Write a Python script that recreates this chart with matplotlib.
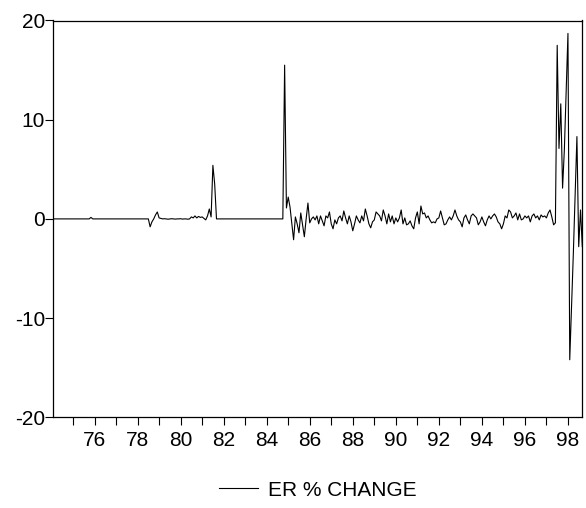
#!/usr/bin/python3
'''
ER % change, monthly, 1974M02 - 1998M09
'''
import numpy as np
import pandas as pd
import matplotlib
matplotlib.use('Agg')
import matplotlib.pyplot as plt

# monthly observations
start = '1974-02'
end = '1998-09'

quiet_74_78 = [0.0] * 21 + [0.15] + [0.0] * 32          # obs 0-53
wiggle_78_81 = [-0.8, -0.3, 0.0, 0.4, 0.7, 0.1, 0.05, 0.0, 0.02, 0.0, -0.03,
                0.0, 0.02, 0.0, -0.02, 0.0, 0.0, 0.02, -0.02, 0.0, 0.0, -0.03,
                0.0, 0.2, 0.1, 0.3, 0.1, 0.25, 0.15, 0.2, 0.05, -0.1, 0.3,
                1.0, 0.2, 5.4, 3.5, 0.0]
quiet_81_84 = [0.0] * 37
jump_84_86 = [15.5, 1.1, 2.2, 1.2, -0.5, -2.1, 0.2, -0.5, -1.4, 0.6, -0.6,
              -1.8, 0.0, 1.6, -0.4, 0.0, 0.2]
float_86_97 = [-0.1, 0.3, -0.5, 0.3, -0.2, -0.7, 0.3, 0.1, 0.7, -0.5,
               -1.0, -0.1, -0.5, 0.1, 0.3, -0.2, 0.8, 0.1, -0.5, 0.3,
               -0.3, -1.2, -0.5, 0.3, -0.1, -0.4, 0.3, -0.2, 1.0, 0.3,
               -0.5, -0.9, -0.3, -0.1, 0.7, 0.5, 0.3, -0.2, 0.9, 0.3,
               -0.5, 0.5, -0.3, 0.3, -0.5, 0.1, -0.3, 0.1, 0.9, -0.5,
               0.1, -0.6, -0.5, -0.2, -0.7, -1.0, 0.1, 0.7, -0.5, 1.3,
               0.5, 0.6, 0.1, 0.3, -0.1, -0.4, -0.3, -0.4, 0.0, 0.1,
               0.8, 0.1, -0.6, -0.5, -0.1, 0.2, -0.1, 0.3, 0.9, 0.3,
               -0.1, -0.3, -0.8, 0.1, 0.4, -0.1, -0.5, 0.3, 0.5, 0.3,
               0.1, -0.6, -0.3, 0.2, -0.3, -0.7, -0.1, 0.3, 0.0, 0.3,
               0.5, 0.2, -0.3, -0.5, -1.0, -0.5, 0.3, 0.1, 0.9, 0.7,
               0.1, 0.3, 0.6, -0.1, 0.5, -0.1, 0.0, 0.3, 0.1, 0.3,
               -0.3, 0.3, 0.5, 0.1, 0.3, -0.1, 0.4, 0.2, 0.3, 0.1,
               0.6, 0.9, 0.2]
crisis_97_98 = [-0.6, -0.4, 17.5, 7.1, 11.6, 3.1, 7.0, 13.0, 18.7, -14.2,
                -9.0, -3.5, 2.5, 8.3, -2.8, 0.9, -2.8]

er_change = quiet_74_78 + wiggle_78_81 + quiet_81_84 + jump_84_86 + float_86_97 + crisis_97_98

year_ticks = list(range(1976, 1999, 2))
year_labels = ['76', '78', '80', '82', '84', '86', '88', '90', '92', '94', '96', '98']
y_ticks = [-20, -10, 0, 10, 20]


def main():
    plt.rcParams['font.family'] = ['Liberation Sans', 'DejaVu Sans']
    months = pd.period_range(start, end, freq='M')
    t = months.year + (months.month - 1) / 12.0

    fig = plt.figure(figsize=(5.86, 5.08), dpi=100)
    ax = fig.add_axes([53.3 / 586, 1 - 417.3 / 508, (582.3 - 53.3) / 586, (417.3 - 20.5) / 508])
    ax.plot(t, er_change, color='black', lw=0.8, label='ER % CHANGE')

    ax.set_xlim(t[0], t[-1])
    ax.set_ylim(-20, 20)
    ax.set_yticks(y_ticks)
    ax.set_yticklabels([str(v) for v in y_ticks])
    ax.set_xticks(year_ticks)
    ax.set_xticklabels(year_labels)
    ax.set_xticks(range(1975, 1999, 2), minor=True)

    for s in ax.spines.values():
        s.set_linewidth(0.9)
        s.set_color('black')
    ax.tick_params(axis='both', which='both', direction='out', length=5.5, width=0.8,
                   labelsize=15, color='black')
    ax.tick_params(axis='x', pad=4.5)
    ax.tick_params(axis='y', pad=0.5)

    fig.legend(loc='center', bbox_to_anchor=(318 / 586, 1 - 490 / 508), frameon=False,
               fontsize=15, handlelength=1.85, handletextpad=0.48)

    fig.savefig('out.png', dpi=100)
# end of main()


if __name__ == '__main__':
    main()
